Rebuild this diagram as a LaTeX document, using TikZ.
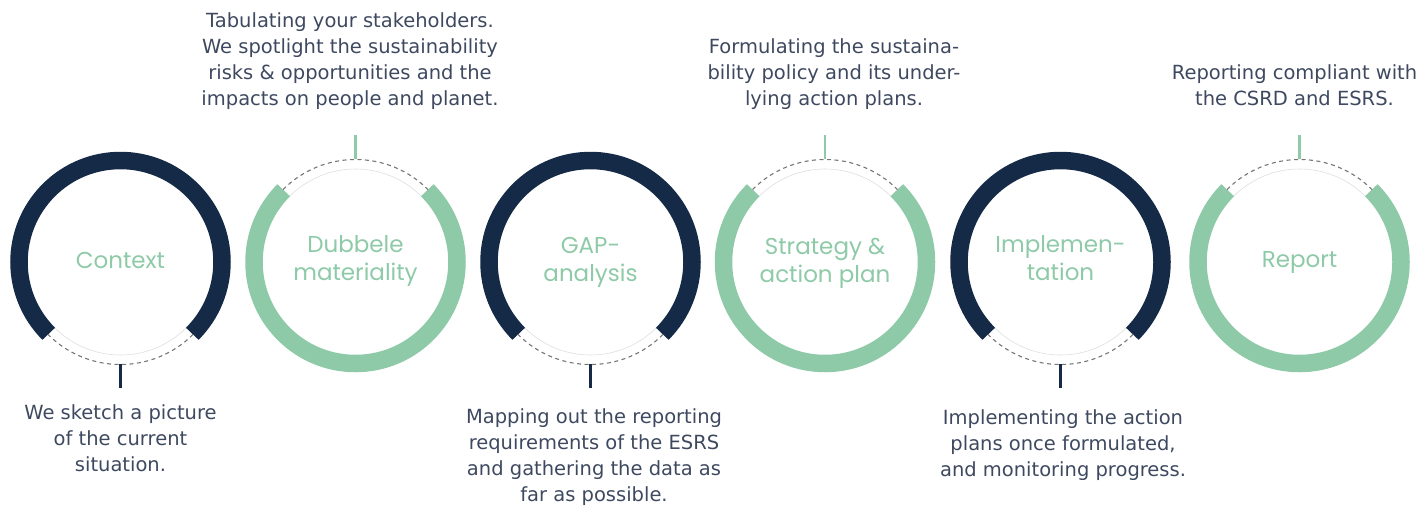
\documentclass[tikz,border=0pt]{standalone}
\usepackage{fontspec}
\setmainfont{DejaVu Sans}
\newfontfamily\labelfont{Poppins}
\definecolor{navy}{RGB}{21,42,71}
\definecolor{ringgreen}{RGB}{142,202,167}
\definecolor{desccol}{RGB}{62,73,96}
\definecolor{dashgrey}{RGB}{118,118,118}
\definecolor{thingrey}{RGB}{222,222,222}
\begin{document}
\begin{tikzpicture}[x=1pt,y=-1pt,
  navyring/.style={draw=navy,line width=17.5pt},
  greenring/.style={draw=ringgreen,line width=17.5pt},
  gapdash/.style={draw=dashgrey,line width=1.1pt,dash pattern=on 4pt off 3.5pt},
  gapthin/.style={draw=thingrey,line width=0.6pt},
  navytick/.style={draw=navy,line width=2.6pt},
  greentick/.style={draw=ringgreen,line width=2.4pt},
  lbl/.style={font=\labelfont\fontsize{23}{28}\selectfont,text=ringgreen,align=center,inner sep=0pt},
  desctext/.style={font=\fontsize{19.5}{25.9}\selectfont,text=desccol,align=center,inner sep=0pt}
]
\useasboundingbox (0,0) rectangle (1424,507);

% ring centres
\coordinate (c1) at (120.5,262);
\coordinate (c2) at (355.5,262);
\coordinate (c3) at (590.5,262);
\coordinate (c4) at (825,262);
\coordinate (c5) at (1060.5,262);
\coordinate (c6) at (1299.5,262);

% navy rings (gap at bottom)
\foreach \c in {c1,c3,c5}{
  \draw[navyring,shift={(\c)}] (135:101.5) arc[start angle=135,end angle=405,radius=101.5];
  \draw[gapthin,shift={(\c)}] (45:93) arc[start angle=45,end angle=135,radius=93];
  \draw[gapdash,shift={(\c)}] (45:102.5) arc[start angle=45,end angle=135,radius=102.5];
}
% green rings (gap at top)
\foreach \c in {c2,c4,c6}{
  \draw[greenring,shift={(\c)}] (-45:101.5) arc[start angle=-45,end angle=225,radius=101.5];
  \draw[gapthin,shift={(\c)}] (225:93) arc[start angle=225,end angle=315,radius=93];
  \draw[gapdash,shift={(\c)}] (225:102.5) arc[start angle=225,end angle=315,radius=102.5];
}

% labels (anchor base = baseline of last line)
\node[lbl,anchor=base] (l1) at (120.5,268) {Context};
\node[lbl,anchor=base] (l2) at (355.5,280.5) {Dubbele\\materiality};
\node[lbl,anchor=base] (l3) at (590.5,281) {GAP-\\analysis};
\node[lbl,anchor=base] (l4) at (825,282) {Strategy \&\\action plan};
\node[lbl,anchor=base] (l5) at (1060.5,280.5) {Implemen-\\tation};
\node[lbl,anchor=base] (l6) at (1299.5,267) {Report};

% descriptions
\node[desctext,anchor=base] (d1) at (120.5,471) {We sketch a picture\\of the current\\situation.};
\node[desctext,anchor=base] (d2) at (350,105) {Tabulating your stakeholders.\\We spotlight the sustainability\\risks \& opportunities and the\\impacts on people and planet.};
\node[desctext,anchor=base] (d3) at (594,501.5) {Mapping out the reporting\\requirements of the ESRS\\and gathering the data as\\far as possible.};
\node[desctext,anchor=base] (d4) at (834,105) {Formulating the sustaina-\\bility policy and its under-\\lying action plans.};
\node[desctext,anchor=base] (d5) at (1063,476.5) {Implementing the action\\plans once formulated,\\and monitoring progress.};
\node[desctext,anchor=base] (d6) at (1294.5,105) {Reporting compliant with\\the CSRD and ESRS.};

% ticks
\coordinate (t1a) at (120.5,364); \coordinate (t1b) at (120.5,388);
\coordinate (t3a) at (590.5,364); \coordinate (t3b) at (590.5,388);
\coordinate (t5a) at (1060.5,364); \coordinate (t5b) at (1060.5,388);
\coordinate (t2a) at (355.5,159); \coordinate (t2b) at (355.5,135);
\coordinate (t4a) at (825,159); \coordinate (t4b) at (825,135);
\coordinate (t6a) at (1299.5,159); \coordinate (t6b) at (1299.5,135);
\draw[navytick] (t1a) -- (t1b);
\draw[navytick] (t3a) -- (t3b);
\draw[navytick] (t5a) -- (t5b);
\draw[greentick] (t2a) -- (t2b);
\draw[greentick] (t4a) -- (t4b);
\draw[greentick] (t6a) -- (t6b);
\end{tikzpicture}
\end{document}
